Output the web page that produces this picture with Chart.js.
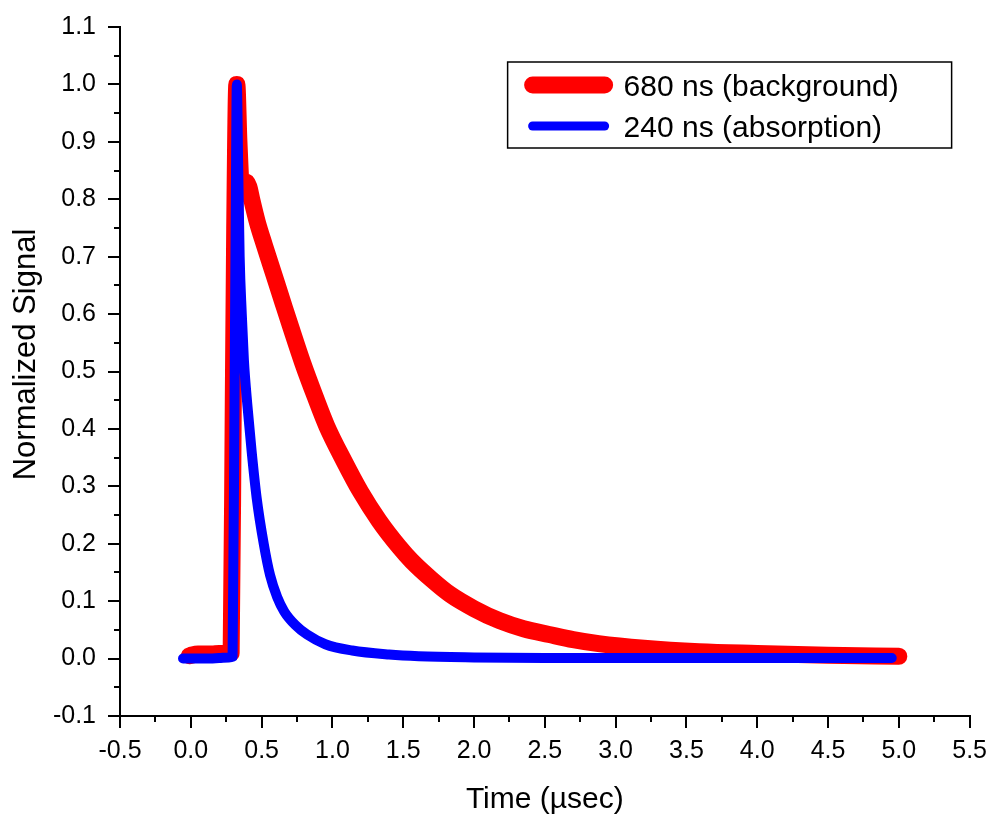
<!DOCTYPE html>
<html>
<head>
<meta charset="utf-8">
<title>Normalized Signal vs Time</title>
<script src="https://cdn.jsdelivr.net/npm/chart.js@4.4.1/dist/chart.umd.min.js"></script>
<style>
  html, body { margin: 0; padding: 0; background: #fff; }
  canvas { display: block; }
</style>
</head>
<body>
<canvas id="signalChart" width="995" height="822"></canvas>
<script>
// red trace, 680 ns (background)
const bgTime   = [-0.01, 0.05, 0.10, 0.15, 0.20, 0.25, 0.285, 0.30, 0.31, 0.325, 0.34, 0.36, 0.39, 0.41, 0.43, 0.47, 0.52, 0.585, 0.65, 0.705, 0.79, 0.88, 0.96, 1.08, 1.20, 1.33, 1.47, 1.56, 1.70, 1.83, 2.00, 2.18, 2.35, 2.53, 2.70, 2.88, 3.20, 3.59, 4.00, 4.50, 5.00];
const bgSignal = [0.005, 0.008, 0.008, 0.008, 0.009, 0.009, 0.010, 0.45, 0.75, 1.00, 0.90, 0.815, 0.83, 0.822, 0.80, 0.76, 0.72, 0.67, 0.62, 0.578, 0.515, 0.455, 0.405, 0.345, 0.29, 0.24, 0.195, 0.17, 0.138, 0.112, 0.087, 0.066, 0.052, 0.042, 0.033, 0.026, 0.018, 0.012, 0.009, 0.006, 0.004];

// blue trace, 240 ns (absorption)
const absTime   = [-0.055, 0.00, 0.10, 0.20, 0.27, 0.295, 0.31, 0.318, 0.325, 0.335, 0.345, 0.36, 0.375, 0.40, 0.43, 0.465, 0.515, 0.56, 0.61, 0.66, 0.74, 0.82, 0.95, 1.14, 1.40, 1.61, 2.00, 2.50, 3.00, 3.50, 4.00, 4.50, 4.95];
const absSignal = [0.000, 0.000, 0.000, 0.001, 0.002, 0.003, 0.50, 0.80, 1.00, 0.85, 0.70, 0.60, 0.52, 0.44, 0.36, 0.28, 0.20, 0.145, 0.107, 0.082, 0.058, 0.042, 0.025, 0.014, 0.007, 0.004, 0.002, 0.001, 0.001, 0.001, 0.001, 0.001, 0.001];

const seriesLabels = ['680 ns (background)', '240 ns (absorption)'];
const xTitle = 'Time (\u00b5sec)';
const yTitle = 'Normalized Signal';

const toPoints = (xs, ys) => xs.map((t, i) => ({ x: t, y: ys[i] }));
const fmt = v => (Math.abs(v) < 1e-9 ? 0 : v).toFixed(1);
const FONT = '"Liberation Sans", Arial, sans-serif';

Chart.defaults.font.family = FONT;
Chart.defaults.color = '#000';

// Chart.js has no minor ticks, so draw them half way between the majors
const minorTicks = {
  id: 'minorTicks',
  afterDraw(chart) {
    const { ctx, scales: { x, y } } = chart;
    ctx.save();
    ctx.strokeStyle = '#000';
    ctx.lineWidth = 2;
    ctx.beginPath();
    for (let v = -0.25; v < 5.5; v += 0.5) {
      const px = Math.round(x.getPixelForValue(v));
      ctx.moveTo(px, x.top);
      ctx.lineTo(px, x.top + 6);
    }
    for (let v = -0.05; v < 1.1; v += 0.1) {
      const py = Math.round(y.getPixelForValue(v));
      ctx.moveTo(y.right, py);
      ctx.lineTo(y.right - 6, py);
    }
    ctx.stroke();
    ctx.restore();
  }
};

// y title sits a little above the middle of the axis in the original
const sideTitle = {
  id: 'sideTitle',
  afterDraw(chart) {
    const { ctx, chartArea } = chart;
    ctx.save();
    ctx.translate(26, (chartArea.top + chartArea.bottom) / 2 - 17);
    ctx.rotate(-Math.PI / 2);
    ctx.font = '31px ' + FONT;
    ctx.fillStyle = '#000';
    ctx.textAlign = 'center';
    ctx.textBaseline = 'middle';
    ctx.fillText(yTitle, 0, 0);
    ctx.restore();
  }
};

// boxed legend in the upper right of the plot
const boxLegend = {
  id: 'boxLegend',
  afterDraw(chart) {
    const { ctx, chartArea } = chart;
    const x0 = chartArea.right - 462;
    const y0 = chartArea.top + 35;
    ctx.save();
    ctx.strokeStyle = '#000';
    ctx.lineWidth = 1.5;
    ctx.strokeRect(x0, y0, 444, 86);

    const rows = [
      { ds: chart.data.datasets[1], y: y0 + 23, base: y0 + 34, width: 17 },
      { ds: chart.data.datasets[0], y: y0 + 64, base: y0 + 75, width: 9 }
    ];
    ctx.lineCap = 'round';
    ctx.font = '30px ' + FONT;
    ctx.fillStyle = '#000';
    ctx.textBaseline = 'alphabetic';
    rows.forEach(r => {
      ctx.strokeStyle = r.ds.borderColor;
      ctx.lineWidth = r.width;
      ctx.beginPath();
      ctx.moveTo(x0 + 25, r.y);
      ctx.lineTo(x0 + 97, r.y);
      ctx.stroke();
      ctx.fillText(r.ds.label, x0 + 116, r.base);
    });
    ctx.restore();
  }
};

new Chart(document.getElementById('signalChart'), {
  type: 'line',
  data: {
    datasets: [
      {
        label: seriesLabels[1],
        data: toPoints(absTime, absSignal),
        borderColor: '#0000ff',
        borderWidth: 10,
        borderCapStyle: 'round',
        borderJoinStyle: 'round',
        pointRadius: 0,
        cubicInterpolationMode: 'monotone',
        order: 0
      },
      {
        label: seriesLabels[0],
        data: toPoints(bgTime, bgSignal),
        borderColor: '#ff0000',
        borderWidth: 17,
        borderCapStyle: 'round',
        borderJoinStyle: 'round',
        pointRadius: 0,
        cubicInterpolationMode: 'monotone',
        order: 1
      }
    ]
  },
  options: {
    responsive: false,
    animation: false,
    layout: { padding: { top: 25, right: 24, left: 0, bottom: 0 } },
    plugins: {
      legend: { display: false },
      tooltip: { enabled: false }
    },
    scales: {
      x: {
        type: 'linear',
        min: -0.5,
        max: 5.5,
        afterFit: s => { s.height = 106; },
        border: { display: true, color: '#000', width: 2 },
        grid: { drawOnChartArea: false, drawTicks: true, tickLength: 12, color: '#000', lineWidth: 2 },
        ticks: {
          stepSize: 0.5,
          autoSkip: false,
          maxRotation: 0,
          padding: 8,
          font: { size: 25 },
          callback: fmt
        },
        title: {
          display: true,
          text: xTitle,
          font: { size: 30 },
          padding: { top: 4, bottom: 4 }
        }
      },
      y: {
        min: -0.1,
        max: 1.1,
        afterFit: s => { s.width = 120; },
        border: { display: true, color: '#000', width: 2 },
        grid: { drawOnChartArea: false, drawTicks: true, tickLength: 12, color: '#000', lineWidth: 2 },
        ticks: {
          stepSize: 0.1,
          autoSkip: false,
          padding: 12,
          font: { size: 25 },
          callback: fmt
        },
        title: { display: false }
      }
    }
  },
  plugins: [minorTicks, sideTitle, boxLegend]
});
</script>
</body>
</html>
